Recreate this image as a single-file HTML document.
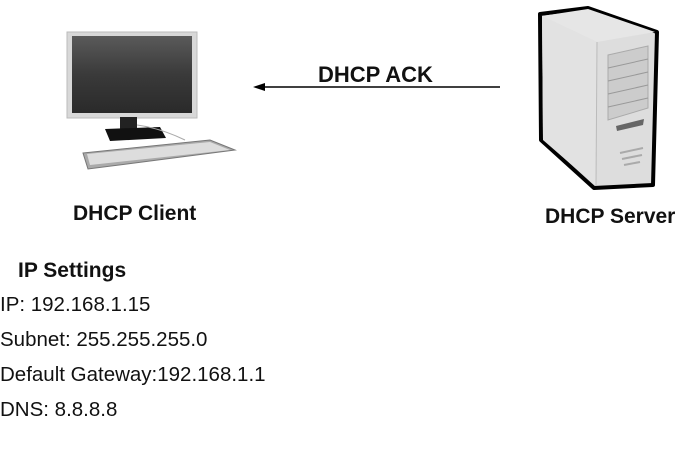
<!DOCTYPE html>
<html><head><style>
body{margin:0;width:677px;height:450px;background:#fff;position:relative;overflow:hidden;font-family:"Liberation Sans",sans-serif;color:#111}
.t{position:absolute;white-space:nowrap;line-height:1}
.b{font-weight:bold}
</style></head><body>
<svg width="677" height="450" style="position:absolute;left:0;top:0">
<defs>
<linearGradient id="scr" x1="0" y1="0" x2="0" y2="1"><stop offset="0" stop-color="#5a5a5a"/><stop offset="0.5" stop-color="#3a3a3a"/><stop offset="1" stop-color="#2a2a2a"/></linearGradient>
</defs>
<rect x="67" y="32" width="130" height="86" fill="#d8d8d8" stroke="#bbb"/>
<rect x="72" y="36" width="120" height="77" fill="url(#scr)"/>
<rect x="120" y="117" width="17" height="12" fill="#222"/>
<polygon points="105,129 160,127 166,138 110,141" fill="#111"/>
<path d="M137,125 Q160,128 185,140" stroke="#aaa" fill="none"/>
<polygon points="83,153 210,140 235,150 88,169" fill="#aaa" stroke="#777"/>
<polygon points="87,154 210,142 230,150 90,165" fill="#ddd"/>
<polygon points="540,14 588,8 657,32 653,185 594,188 541,140" fill="#ddd" stroke="#000" stroke-width="4" stroke-linejoin="round"/>
<polygon points="542,16 588,9 655,32 597,42" fill="#e6e6e6"/>
<polygon points="542,16 597,42 596,186 543,140" fill="#e2e2e2"/>
<line x1="597" y1="42" x2="596" y2="186" stroke="#bbb"/>
<polygon points="608,55 648,46 648,108 608,120" fill="#ccc" stroke="#aaa"/>
<line x1="608" y1="68" x2="648" y2="59" stroke="#999"/>
<line x1="608" y1="81" x2="648" y2="72" stroke="#999"/>
<line x1="608" y1="94" x2="648" y2="85" stroke="#999"/>
<line x1="608" y1="107" x2="648" y2="98" stroke="#999"/>
<polygon points="616,126 644,119 643,125 617,131" fill="#666"/>
<line x1="620" y1="153" x2="643" y2="148" stroke="#aaa" stroke-width="2"/>
<line x1="622" y1="159" x2="642" y2="155" stroke="#aaa" stroke-width="2"/>
<line x1="624" y1="165" x2="640" y2="162" stroke="#aaa" stroke-width="2"/>
<line x1="500" y1="87" x2="262" y2="87" stroke="#000" stroke-width="1.5"/>
<polygon points="253,87 265,83 265,91" fill="#000"/>
</svg>
<div class="t b" style="left:318px;top:64px;font-size:22px">DHCP ACK</div>
<div class="t b" style="left:73px;top:203px;font-size:21px">DHCP Client</div>
<div class="t b" style="left:545px;top:206px;font-size:21px">DHCP Server</div>
<div class="t b" style="left:18px;top:260px;font-size:21px">IP Settings</div>
<div class="t" style="left:0;top:295px;font-size:20.5px">IP: 192.168.1.15</div>
<div class="t" style="left:0;top:330px;font-size:20.5px">Subnet: 255.255.255.0</div>
<div class="t" style="left:0;top:365px;font-size:20.5px">Default Gateway:192.168.1.1</div>
<div class="t" style="left:0;top:400px;font-size:20.5px">DNS: 8.8.8.8</div>
</body></html>
